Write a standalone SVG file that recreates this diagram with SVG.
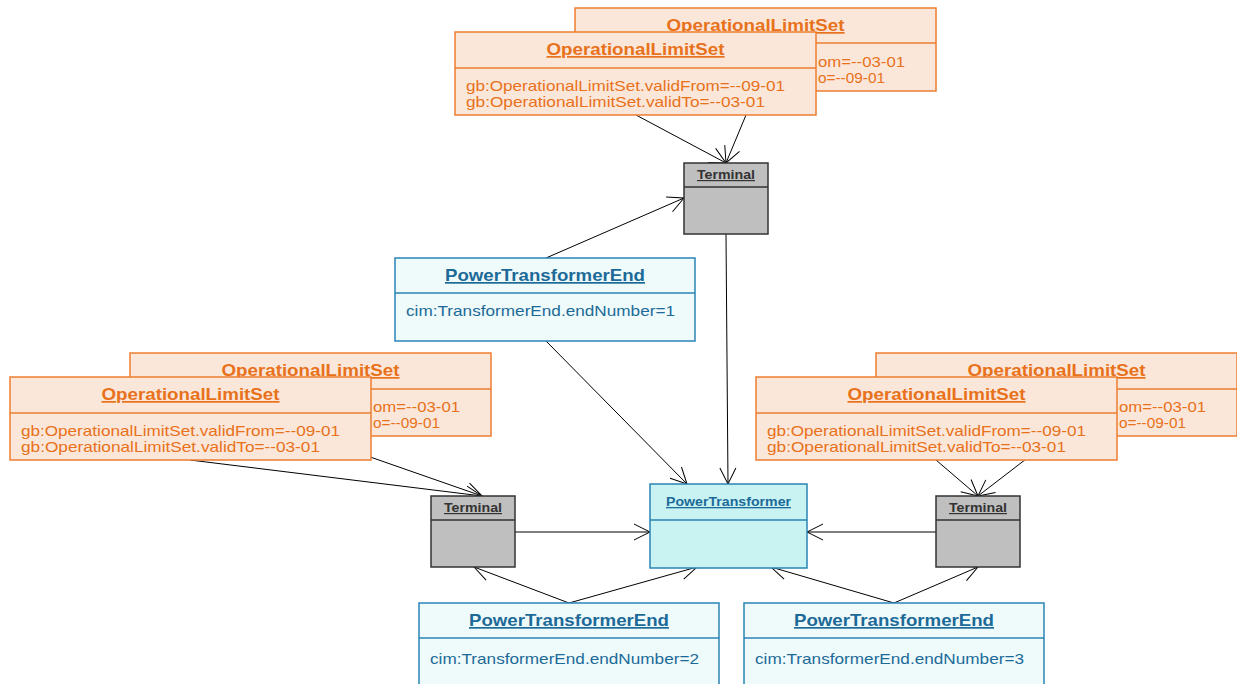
<svg xmlns="http://www.w3.org/2000/svg" width="1237" height="684" viewBox="0 0 1237 684">
<style>
.ols rect{fill:#FBE7D9;stroke:#ED7D31;stroke-width:1.5}
.ols line{stroke:#ED7D31;stroke-width:1.5}
.ols text{fill:#E8711B;font-family:"Liberation Sans",Arial,sans-serif}
.pte rect{fill:#EFFAFB;stroke:#2A85B5;stroke-width:1.5}
.pte line{stroke:#2A85B5;stroke-width:1.5}
.pte text{fill:#1C6A98;font-family:"Liberation Sans",Arial,sans-serif}
.pt rect{fill:#C9F3F3;stroke:#2A85B5;stroke-width:1.5}
.pt line{stroke:#2A85B5;stroke-width:1.5}
.pt text{fill:#1C6A98;font-family:"Liberation Sans",Arial,sans-serif}
.term rect{fill:#BFBFBF;stroke:#333;stroke-width:1.5}
.term line{stroke:#333;stroke-width:1.5}
.term text{fill:#333;font-family:"Liberation Sans",Arial,sans-serif}
.t{font-weight:bold;text-decoration:underline;text-anchor:middle}
.big{font-size:17px}
.attr{font-size:15px}
.sm{font-size:12px}
.conn line{stroke:#000;stroke-width:1;marker-end:url(#arr)}
</style>
<defs>
<marker id="arr" viewBox="-18 -10 20 20" refX="0" refY="0" markerWidth="20" markerHeight="20" orient="auto" markerUnits="userSpaceOnUse">
<path d="M-16,-8 L0,0 L-16,8" fill="none" stroke="#000" stroke-width="1"/>
</marker>
</defs>
<rect width="1237" height="684" fill="#fff"/>
<g id="connectors" class="conn">
<line x1="636" y1="115" x2="726" y2="163"/>
<line x1="756" y1="91" x2="726" y2="163"/>
<line x1="546" y1="258" x2="684" y2="198"/>
<line x1="726" y1="234" x2="728" y2="484"/>
<line x1="546" y1="341" x2="687" y2="484"/>
<line x1="190" y1="460" x2="482" y2="496"/>
<line x1="310" y1="436" x2="482" y2="496"/>
<line x1="936" y1="460" x2="978" y2="496"/>
<line x1="1056" y1="436" x2="978" y2="496"/>
<line x1="515" y1="532" x2="650" y2="532"/>
<line x1="936" y1="532" x2="807" y2="532"/>
<line x1="569" y1="603" x2="474" y2="567"/>
<line x1="569" y1="603" x2="697" y2="567"/>
<line x1="894" y1="603" x2="771" y2="567"/>
<line x1="894" y1="603" x2="978" y2="567"/>
</g>
<g id="ols-top-back" class="ols">
<rect x="575" y="8" width="361" height="83"/>
<line x1="575" y1="43" x2="936" y2="43"/>
<text class="t big" x="755.5" y="31" textLength="178" lengthAdjust="spacingAndGlyphs">OperationalLimitSet</text>
<text class="attr" x="818" y="67" textLength="87" lengthAdjust="spacingAndGlyphs">om=--03-01</text>
<text class="attr" x="818" y="83" textLength="67" lengthAdjust="spacingAndGlyphs">o=--09-01</text>
</g>
<g id="ols-top-front" class="ols">
<rect x="455" y="32" width="361" height="83"/>
<line x1="455" y1="68" x2="816" y2="68"/>
<text class="t big" x="635.5" y="55" textLength="178" lengthAdjust="spacingAndGlyphs">OperationalLimitSet</text>
<text class="attr" x="466" y="91" textLength="319" lengthAdjust="spacingAndGlyphs">gb:OperationalLimitSet.validFrom=--09-01</text>
<text class="attr" x="466" y="107" textLength="299" lengthAdjust="spacingAndGlyphs">gb:OperationalLimitSet.validTo=--03-01</text>
</g>
<g id="terminal-top" class="term">
<rect x="684" y="163" width="84" height="71"/>
<line x1="684" y1="187" x2="768" y2="187"/>
<text class="t sm" x="726" y="179" textLength="58" lengthAdjust="spacingAndGlyphs">Terminal</text>
</g>
<g id="pte-1" class="pte">
<rect x="395" y="258" width="300" height="83"/>
<line x1="395" y1="293" x2="695" y2="293"/>
<text class="t big" x="545" y="281" textLength="200" lengthAdjust="spacingAndGlyphs">PowerTransformerEnd</text>
<text class="attr" x="406" y="316" textLength="269" lengthAdjust="spacingAndGlyphs">cim:TransformerEnd.endNumber=1</text>
</g>
<g id="ols-left-back" class="ols">
<rect x="130" y="353" width="361" height="83"/>
<line x1="130" y1="389" x2="491" y2="389"/>
<text class="t big" x="310.5" y="376" textLength="178" lengthAdjust="spacingAndGlyphs">OperationalLimitSet</text>
<text class="attr" x="373" y="412" textLength="87" lengthAdjust="spacingAndGlyphs">om=--03-01</text>
<text class="attr" x="373" y="428" textLength="67" lengthAdjust="spacingAndGlyphs">o=--09-01</text>
</g>
<g id="ols-left-front" class="ols">
<rect x="10" y="377" width="361" height="83"/>
<line x1="10" y1="413" x2="371" y2="413"/>
<text class="t big" x="190.5" y="400" textLength="178" lengthAdjust="spacingAndGlyphs">OperationalLimitSet</text>
<text class="attr" x="21" y="436" textLength="319" lengthAdjust="spacingAndGlyphs">gb:OperationalLimitSet.validFrom=--09-01</text>
<text class="attr" x="21" y="452" textLength="299" lengthAdjust="spacingAndGlyphs">gb:OperationalLimitSet.validTo=--03-01</text>
</g>
<g id="ols-right-back" class="ols">
<rect x="876" y="353" width="361" height="83"/>
<line x1="876" y1="389" x2="1237" y2="389"/>
<text class="t big" x="1056.5" y="376" textLength="178" lengthAdjust="spacingAndGlyphs">OperationalLimitSet</text>
<text class="attr" x="1119" y="412" textLength="87" lengthAdjust="spacingAndGlyphs">om=--03-01</text>
<text class="attr" x="1119" y="428" textLength="67" lengthAdjust="spacingAndGlyphs">o=--09-01</text>
</g>
<g id="ols-right-front" class="ols">
<rect x="756" y="377" width="361" height="83"/>
<line x1="756" y1="413" x2="1117" y2="413"/>
<text class="t big" x="936.5" y="400" textLength="178" lengthAdjust="spacingAndGlyphs">OperationalLimitSet</text>
<text class="attr" x="767" y="436" textLength="319" lengthAdjust="spacingAndGlyphs">gb:OperationalLimitSet.validFrom=--09-01</text>
<text class="attr" x="767" y="452" textLength="299" lengthAdjust="spacingAndGlyphs">gb:OperationalLimitSet.validTo=--03-01</text>
</g>
<g id="terminal-left" class="term">
<rect x="431" y="496" width="84" height="71"/>
<line x1="431" y1="520" x2="515" y2="520"/>
<text class="t sm" x="473" y="512" textLength="58" lengthAdjust="spacingAndGlyphs">Terminal</text>
</g>
<g id="terminal-right" class="term">
<rect x="936" y="496" width="84" height="71"/>
<line x1="936" y1="520" x2="1020" y2="520"/>
<text class="t sm" x="978" y="512" textLength="58" lengthAdjust="spacingAndGlyphs">Terminal</text>
</g>
<g id="power-transformer" class="pt">
<rect x="650" y="484" width="157" height="84"/>
<line x1="650" y1="520" x2="807" y2="520"/>
<text class="t" style="font-size:13px" x="728.5" y="506" textLength="125" lengthAdjust="spacingAndGlyphs">PowerTransformer</text>
</g>
<g id="pte-2" class="pte">
<rect x="419" y="603" width="300" height="90"/>
<line x1="419" y1="638" x2="719" y2="638"/>
<text class="t big" x="569" y="626" textLength="200" lengthAdjust="spacingAndGlyphs">PowerTransformerEnd</text>
<text class="attr" x="430" y="664" textLength="269" lengthAdjust="spacingAndGlyphs">cim:TransformerEnd.endNumber=2</text>
</g>
<g id="pte-3" class="pte">
<rect x="744" y="603" width="300" height="90"/>
<line x1="744" y1="638" x2="1044" y2="638"/>
<text class="t big" x="894" y="626" textLength="200" lengthAdjust="spacingAndGlyphs">PowerTransformerEnd</text>
<text class="attr" x="755" y="664" textLength="269" lengthAdjust="spacingAndGlyphs">cim:TransformerEnd.endNumber=3</text>
</g>
</svg>
